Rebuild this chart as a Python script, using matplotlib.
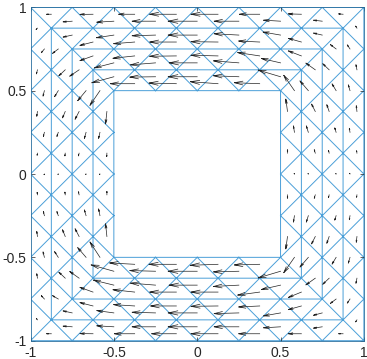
import numpy as np
import matplotlib
matplotlib.use('Agg')
import matplotlib.pyplot as plt
import matplotlib.tri as mtri

plt.rcParams['font.family'] = ['Liberation Sans', 'DejaVu Sans']

# mesh rows of one strip: base line, apex line, number of triangles
row_base = [1, 0.875, 0.875, 0.75, 0.75, 0.625, 0.625, 0.5]
row_apex = [0.875, 1, 0.75, 0.875, 0.625, 0.75, 0.5, 0.625]
row_count = [8, 7, 7, 6, 6, 5, 5, 4]
tick_values = [-1, -0.5, 0, 0.5, 1]
tick_labels = ['-1', '-0.5', '0', '0.5', '1']

# arrows per triangle, rows as in row_base
top_u = [-.028, -.078, -.096, -.160, -.162, -.122, -.078, -.026,
         -.054, -.102, -.140, -.174, -.148, -.102, -.052,
         -.054, -.104, -.140, -.174, -.148, -.104, -.052,
         -.078, -.126, -.160, -.162, -.126, -.078,
         -.078, -.130, -.160, -.162, -.132, -.078,
         -.116, -.150, -.168, -.152, -.114,
         -.132, -.154, -.174, -.152, -.134,
         -.146, -.164, -.166, -.152]
top_v = [0, -.001, 0, 0, 0, 0, .002, .002,
         -.004, -.006, 0, 0, 0, .006, .006,
         -.012, -.016, -.004, 0, .008, .018, .012,
         -.020, -.010, 0, .002, .006, .022,
         -.028, -.014, -.002, .004, .020, .030,
         -.030, -.012, 0, .012, .026,
         -.036, -.002, 0, .006, .040,
         0, .004, .012, .006]
bottom_u = [-.028, -.078, -.122, -.148, -.162, -.126, -.078, -.026,
            -.054, -.102, -.140, -.174, -.148, -.102, -.052,
            -.054, -.102, -.140, -.174, -.148, -.102, -.052,
            -.078, -.126, -.154, -.162, -.126, -.078,
            -.078, -.130, -.160, -.162, -.132, -.078,
            -.122, -.150, -.168, -.152, -.114,
            -.136, -.154, -.174, -.152, -.134,
            -.150, -.164, -.166, -.152]
bottom_v = [0, .001, 0, 0, 0, 0, 0, 0,
            .004, .006, 0, 0, 0, -.006, -.008,
            .012, .014, .004, 0, -.004, -.018, -.014,
            .020, .008, 0, -.002, -.006, -.022,
            .028, .014, 0, 0, -.018, -.032,
            .030, .012, 0, -.008, -.026,
            .038, .004, 0, -.004, -.040,
            .008, 0, -.006, -.004]
# side columns run from the top down
left_u = [-.008, -.006, -.004, -.002, -.002, -.004, -.004, -.006,
          -.018, -.008, -.006, -.002, -.006, -.008, -.018,
          -.034, -.022, -.008, -.002, -.008, -.022, -.034,
          -.038, -.016, -.002, -.002, -.016, -.038,
          -.056, -.024, -.004, -.004, -.024, -.056,
          -.050, -.010, -.002, -.010, -.050,
          -.060, -.008, -.002, -.008, -.060,
          -.008, -.001, 0, -.008]
left_v = [-.008, -.024, -.028, -.012, .014, .030, .026, .008,
          -.022, -.032, -.024, -.004, .024, .032, .020,
          -.026, -.036, -.024, -.002, .024, .034, .020,
          -.036, -.038, -.016, .016, .040, .036,
          -.038, -.046, -.016, .018, .046, .040,
          -.060, -.036, -.002, .034, .058,
          -.088, -.036, -.002, .040, .092,
          -.074, -.020, .020, .076]
right_u = [-.008, -.006, -.004, -.002, -.002, -.004, -.006, -.008,
           -.016, -.010, -.004, -.002, -.004, -.010, -.016,
           -.034, -.024, -.008, -.002, -.008, -.024, -.034,
           -.038, -.014, -.004, -.004, -.014, -.038,
           -.056, -.022, -.006, -.006, -.022, -.056,
           -.050, -.012, -.002, -.012, -.050,
           -.064, -.006, -.002, -.006, -.064,
           -.010, 0, 0, -.010]
right_v = [.012, .030, .034, .014, -.014, -.034, -.030, -.012,
           .024, .034, .024, .004, -.024, -.034, -.024,
           .026, .040, .026, .002, -.026, -.040, -.026,
           .036, .040, .016, -.016, -.040, -.036,
           .040, .044, .020, -.020, -.044, -.040,
           .058, .038, .002, -.038, -.058,
           .092, .038, .002, -.038, -.092,
           .074, .020, -.020, -.074]


def strip_triangles(side):
    # corners of every triangle in one strip, in the order of the arrow lists
    tris = []
    for base, apex, n in zip(row_base, row_apex, row_count):
        along = (np.arange(n) - (n - 1) / 2) * 0.25
        if side in ('left', 'right'):
            along = along[::-1]
        for a in along:
            pts = [(a - 0.125, base), (a + 0.125, base), (a, apex)]
            if side == 'top':
                tris.append(pts)
            elif side == 'bottom':
                tris.append([(p, -q) for p, q in pts])
            elif side == 'left':
                tris.append([(-q, p) for p, q in pts])
            else:
                tris.append([(q, p) for p, q in pts])
    return tris


def quiver_lines(x, y, u, v, alpha=0.33, beta=0.22):
    # line and V head in proportion to the arrow length
    xs, ys = [], []
    for x0, y0, du, dv in zip(x, y, u, v):
        tx, ty = x0 + du, y0 + dv
        xs += [x0, tx, np.nan,
               tx - alpha * (du + beta * dv), tx, tx - alpha * (du - beta * dv), np.nan]
        ys += [y0, ty, np.nan,
               ty - alpha * (dv - beta * du), ty, ty - alpha * (dv + beta * du), np.nan]
    return xs, ys


triangles = []
arrow_u, arrow_v = [], []
for side, u, v in [('top', top_u, top_v), ('bottom', bottom_u, bottom_v),
                   ('left', left_u, left_v), ('right', right_u, right_v)]:
    triangles += strip_triangles(side)
    arrow_u += u
    arrow_v += v

nodes = {}
tri_index = []
for tri in triangles:
    tri_index.append([nodes.setdefault(p, len(nodes)) for p in tri])
node_xy = np.array(list(nodes))
mesh = mtri.Triangulation(node_xy[:, 0], node_xy[:, 1], tri_index)
corners = np.array(triangles)
cx = corners[:, :, 0].mean(axis=1)
cy = corners[:, :, 1].mean(axis=1)

fig = plt.figure(figsize=(3.67, 3.59), dpi=100)
ax = fig.add_axes([30.5 / 367, 18.3 / 359, 333.4 / 367, 333.4 / 359])
ax.triplot(mesh, color='#4a9fd8', lw=0.7, zorder=1)
ax_x, ax_y = quiver_lines(cx, cy, arrow_u, arrow_v)
ax.plot(ax_x, ax_y, color='#222222', lw=0.5, zorder=2)

ax.set_xlim(-1, 1)
ax.set_ylim(-1, 1)
ax.set_xticks(tick_values, tick_labels)
ax.set_yticks(tick_values, tick_labels)
ax.tick_params(direction='in', length=3, width=0.5, labelsize=10, top=True, right=True,
               color='#262626', labelcolor='#262626', pad=3)
ax.tick_params(axis='x', pad=3.5)
for spine in ax.spines.values():
    spine.set_linewidth(0.6)
    spine.set_color('#2a6f9f')

fig.savefig('out.png', dpi=100)
